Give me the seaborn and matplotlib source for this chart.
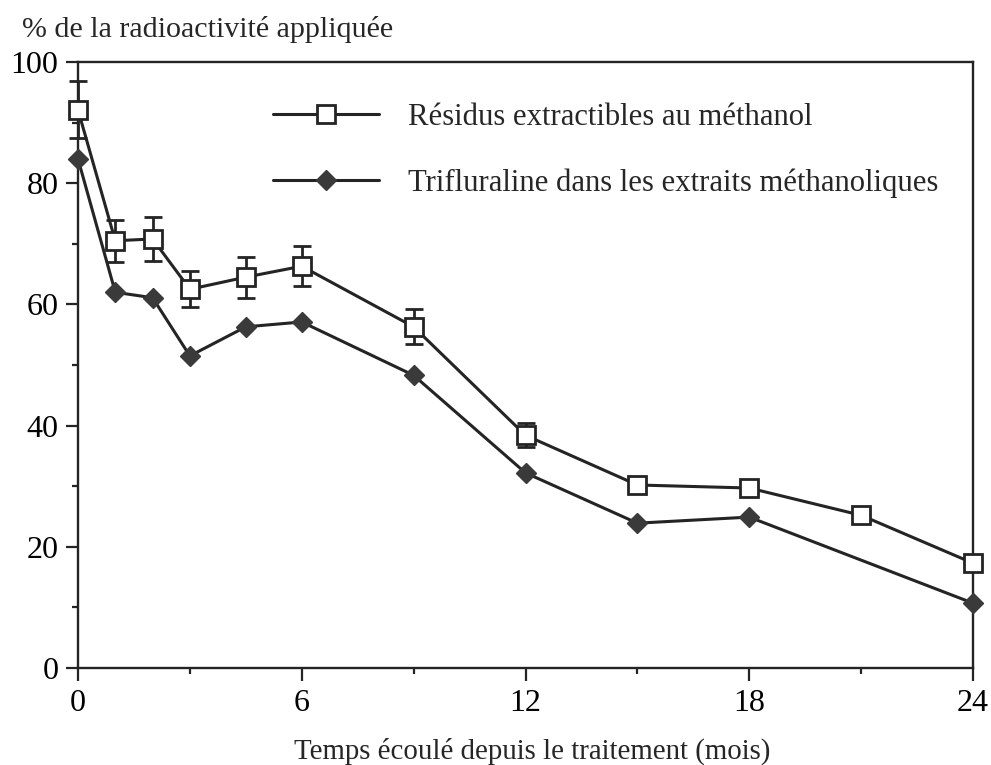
import numpy as np
import pandas as pd
import matplotlib
matplotlib.use("Agg")
import matplotlib.pyplot as plt
import seaborn as sns
from matplotlib.ticker import MultipleLocator

# ---- data ----
months_res = [0, 1, 2, 3, 4.5, 6, 9, 12, 15, 18, 21, 24]
residus = [92.1, 70.5, 70.8, 62.5, 64.5, 66.3, 56.3, 38.4, 30.2, 29.7, 25.2, 17.3]
err_res = [4.7, 3.5, 3.6, 3.0, 3.4, 3.3, 2.9, 2.0, 0, 0, 0, 0]

months_tri = [0, 1, 2, 3, 4.5, 6, 9, 12, 15, 18, 24]
trifluraline = [84.0, 62.0, 61.1, 51.5, 56.3, 57.1, 48.3, 32.2, 23.9, 24.9, 10.7]

label_res = "Résidus extractibles au méthanol"
label_tri = "Trifluraline dans les extraits méthanoliques"
ylabel = "% de la radioactivité appliquée"
xlabel = "Temps écoulé depuis le traitement (mois)"
xticks = [0, 6, 12, 18, 24]
yticks = [0, 20, 40, 60, 80, 100]

sns.set_style("ticks")
plt.rcParams["font.family"] = ["Liberation Serif", "DejaVu Serif"]
plt.rcParams["font.size"] = 22

TFS = 23
LFS = 22.1
XLFS = 20.8
YLFS = 21.6
LC = "#242424"

fig = plt.figure(figsize=(9.91, 7.65), dpi=100)
ax = fig.add_axes([78 / 991, 97 / 765, 895 / 991, 606 / 765])

df_res = pd.DataFrame({"mois": months_res, "val": residus})
df_tri = pd.DataFrame({"mois": months_tri, "val": trifluraline})

ax.errorbar(months_res, residus, yerr=err_res, fmt="none", ecolor=LC,
            elinewidth=2.0, capsize=6.5, capthick=2.0, zorder=2, clip_on=False)

sns.lineplot(data=df_res, x="mois", y="val", ax=ax, color=LC, linewidth=2.2,
             marker="s", markersize=12.5, markerfacecolor="white",
             markeredgecolor=LC, markeredgewidth=2.0, label=label_res,
             zorder=4, clip_on=False)
sns.lineplot(data=df_tri, x="mois", y="val", ax=ax, color=LC, linewidth=2.2,
             marker="D", markersize=10.5, markerfacecolor="#3a3a3a",
             markeredgecolor="#3a3a3a", markeredgewidth=1.0, label=label_tri,
             zorder=3, clip_on=False)

ax.set_xlim(0, 24)
ax.set_ylim(0, 100)
ax.set_xticks(xticks)
ax.set_yticks(yticks)
ax.xaxis.set_minor_locator(MultipleLocator(3))
ax.yaxis.set_minor_locator(MultipleLocator(10))
ax.tick_params(axis="both", which="major", direction="out", length=9,
               width=1.6, color=LC, labelsize=TFS, pad=6, labelcolor="black")
ax.tick_params(axis="both", which="minor", direction="out", length=4.5,
               width=1.6, color=LC)
ax.tick_params(axis="y", which="major", pad=5)

for s in ax.spines.values():
    s.set_visible(True)
    s.set_linewidth(1.7)
    s.set_color(LC)

ax.set_ylabel("")
ax.set_xlabel(xlabel, fontsize=XLFS, labelpad=17)
ax.xaxis.set_label_coords(0.507, -0.1, transform=ax.transAxes)
ax.xaxis.label.set_va("baseline")
ax.xaxis.set_label_coords((532 - 78) / 895, -(759 - 668) / 606)
fig.text(22 / 991, 1 - 37 / 765, ylabel, fontsize=YLFS, ha="left",
         va="baseline")

leg = ax.legend(loc="upper left", bbox_to_anchor=(0.218, 0.933),
                frameon=False, fontsize=LFS, handlelength=3.45,
                handletextpad=0.95, labelspacing=1.2, borderpad=0,
                borderaxespad=0, numpoints=1)

fig.savefig("out.png", dpi=100)
